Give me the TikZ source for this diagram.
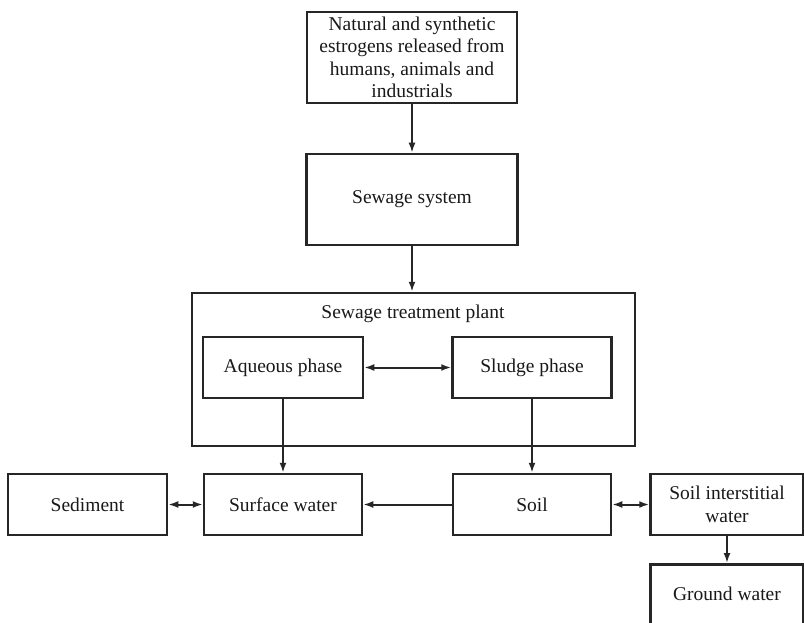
\documentclass[tikz,border=0pt]{standalone}
\usepackage{fontspec}
\setmainfont{Liberation Serif}
\usetikzlibrary{arrows.meta}
\begin{document}
\begin{tikzpicture}[x=1pt,y=-1pt,
  lbl/.style={font=\fontsize{19.5}{22.5}\selectfont,inner sep=0pt,text=black!90},
  box/.style={draw=black!85,line width=2.5pt,align=center,lbl},
  conn/.style={line width=2pt,draw=black!85,-{Latex[length=10pt,width=7pt]}},
  dconn/.style={line width=2pt,draw=black!85,{Latex[length=10pt,width=7pt]}-{Latex[length=10pt,width=7pt]}}]
\useasboundingbox (0,0) rectangle (804,623);
\clip (0,0) rectangle (804,623);
\fill[white] (0,0) rectangle (804,623);
\node[box,minimum width=210pt,minimum height=91pt] (top) at (412,57.5) {Natural and synthetic\\estrogens released from\\humans, animals and\\industrials};
\node[box,minimum width=211pt,minimum height=91pt] (sew) at (412,199.5) {Sewage system};
\node[box,minimum width=443pt,minimum height=153pt] (stp) at (413.5,369.5) {};
\node[lbl] (stpl) at (413,314) {Sewage treatment plant};
\node[box,minimum width=160pt,minimum height=61pt] (aq) at (283,367.5) {Aqueous phase};
\node[box,minimum width=159pt,minimum height=61pt] (sl) at (532,367.5) {Sludge phase};
\node[box,minimum width=159pt,minimum height=61pt] (sed) at (87.5,504.5) {Sediment};
\node[box,minimum width=158pt,minimum height=61pt] (sw) at (283,504.5) {Surface water};
\node[box,minimum width=158pt,minimum height=61pt] (soil) at (532,504.5) {Soil};
\node[box,minimum width=153pt,minimum height=61pt] (siw) at (727,504.5) {Soil interstitial\\water};
\node[box,minimum width=153pt,minimum height=100pt,anchor=north] (gw) at (727,563) {};
\node[lbl] (gwl) at (727,594) {Ground water};
\draw[conn] (top.south) -- (sew.north);
\draw[conn] (sew.south) -- (stp.north -| sew.south);
\draw[dconn] (aq.east) -- (sl.west);
\draw[conn] (aq.south) -- (sw.north);
\draw[conn] (sl.south) -- (soil.north);
\draw[dconn] (sed.east) -- (sw.west);
\draw[conn] (soil.west) -- (sw.east);
\draw[dconn] (soil.east) -- (siw.west);
\draw[conn] (siw.south) -- (gw.north);
\end{tikzpicture}
\end{document}
